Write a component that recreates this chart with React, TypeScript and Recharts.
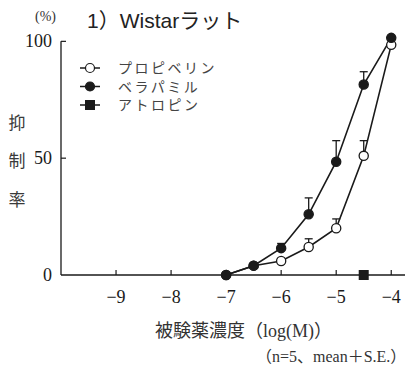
import {
  ComposedChart,
  Line,
  Scatter,
  XAxis,
  YAxis,
  ErrorBar,
  ReferenceLine,
} from "recharts";

// log molar concentration of the test drug
const logConc = [-7, -6.5, -6, -5.5, -5, -4.5, -4];

// inhibition rate (%), mean and S.E.
const propiverine = [0, 4, 6, 12, 20, 51, 98.5];
const propiverineSE = [0, 0, 1, 3.5, 4, 6.5, 0];
const verapamil = [0, 4, 11.5, 26, 48.5, 81.5, 101.5];
const verapamilSE = [0, 0, 2, 7, 9, 5.5, 0];

const atropineConc = [-4.5];
const atropine = [0];

const xTicks = [-9, -8, -7, -6, -5, -4];
const yTicks = [0, 50, 100];

const legendItems = ["プロピベリン", "ベラパミル", "アトロピン"];

const propRows = logConc.map((x, i) => ({
  x,
  y: propiverine[i],
  err: [0, propiverineSE[i]],
}));
const veraRows = logConc.map((x, i) => ({
  x,
  y: verapamil[i],
  err: [0, verapamilSE[i]],
}));
const atroRows = atropineConc.map((x, i) => ({ x, y: atropine[i] }));

const INK = "#1a1a1a";
const SERIF = "'Liberation Serif', 'Noto Sans CJK JP', serif";
const CJK = "'Noto Sans CJK JP', sans-serif";

function XTick({ x, y, payload }: any) {
  return (
    <g>
      <line x1={x} y1={y} x2={x} y2={y - 5} stroke={INK} strokeWidth={1.2} />
      <text
        x={x}
        y={y + 28}
        textAnchor="middle"
        fontFamily={SERIF}
        fontSize={18}
        fill={INK}
      >
        {"\u2212" + Math.abs(payload.value)}
      </text>
    </g>
  );
}

function YTick({ x, y, payload }: any) {
  return (
    <g>
      {payload.value > 0 && (
        <line x1={x} y1={y} x2={x + 5} y2={y} stroke={INK} strokeWidth={1.2} />
      )}
      <text
        x={x - 9}
        y={y + 6}
        textAnchor="end"
        fontFamily={SERIF}
        fontSize={18}
        fill={INK}
      >
        {payload.value}
      </text>
    </g>
  );
}

function SquareDot({ cx, cy }: any) {
  return <rect x={cx - 5} y={cy - 5} width={10} height={10} fill={INK} />;
}

function LegendMarker({ kind, cx, cy }: any) {
  if (kind === 2) {
    return <rect x={cx - 5} y={cy - 5} width={10} height={10} fill={INK} />;
  }
  return (
    <circle
      cx={cx}
      cy={cy}
      r={4.5}
      fill={kind === 0 ? "#fff" : INK}
      stroke={INK}
      strokeWidth={1.2}
    />
  );
}

export default function App() {
  return (
    <div
      style={{
        position: "absolute",
        left: 0,
        top: 0,
        width: 412,
        height: 369,
        background: "#fff",
      }}
    >
      <ComposedChart
        width={412}
        height={369}
        margin={{ top: 32, right: 7, bottom: 64, left: 8 }}
      >
        <XAxis
          type="number"
          dataKey="x"
          domain={[-10, -3.75]}
          ticks={xTicks}
          height={30}
          axisLine={{ stroke: INK, strokeWidth: 1.3 }}
          tickLine={false}
          tickSize={0}
          tickMargin={0}
          tick={<XTick />}
        />
        <YAxis
          type="number"
          dataKey="y"
          domain={[0, 104]}
          ticks={yTicks}
          width={53}
          axisLine={false}
          tickLine={false}
          tickSize={0}
          tickMargin={0}
          tick={<YTick />}
        />
        <ReferenceLine
          segment={[
            { x: -10, y: 0 },
            { x: -10, y: 100 },
          ]}
          stroke={INK}
          strokeWidth={1.3}
        />
        <Line
          data={propRows}
          dataKey="y"
          type="linear"
          stroke={INK}
          strokeWidth={1.6}
          dot={{ r: 4.6, fill: "#fff", stroke: INK, strokeWidth: 1.3 }}
          isAnimationActive={false}
        >
          <ErrorBar
            dataKey="err"
            direction="y"
            width={4}
            stroke={INK}
            strokeWidth={1.3}
          />
        </Line>
        <Line
          data={veraRows}
          dataKey="y"
          type="linear"
          stroke={INK}
          strokeWidth={1.6}
          dot={{ r: 4.6, fill: INK, stroke: INK, strokeWidth: 1.3 }}
          isAnimationActive={false}
        >
          <ErrorBar
            dataKey="err"
            direction="y"
            width={4}
            stroke={INK}
            strokeWidth={1.3}
          />
        </Line>
        <Scatter
          data={atroRows}
          dataKey="y"
          shape={<SquareDot />}
          isAnimationActive={false}
        />
      </ComposedChart>

      <svg
        width={412}
        height={369}
        style={{ position: "absolute", left: 0, top: 0, pointerEvents: "none" }}
      >
        <text x={35} y={21} fontFamily={SERIF} fontSize={14} fill="#333">
          (%)
        </text>
        <text
          x={87}
          y={28}
          fontFamily="'Liberation Sans', 'Noto Sans CJK JP', sans-serif"
          fontSize={21}
          fill="#222"
        >
          1）Wistarラット
        </text>

        {["抑", "制", "率"].map((ch, i) => (
          <text
            key={ch}
            x={17}
            y={[128.5, 166.5, 205.5][i]}
            textAnchor="middle"
            fontFamily={CJK}
            fontSize={17}
            fill="#3a3a3a"
          >
            {ch}
          </text>
        ))}

        {legendItems.map((name, i) => {
          const cy = 68 + i * 18.5;
          return (
            <g key={name}>
              <line x1={80} y1={cy} x2={100} y2={cy} stroke={INK} strokeWidth={1.5} />
              <LegendMarker kind={i} cx={90} cy={cy} />
              <text
                x={118}
                y={cy + 5}
                fontFamily={CJK}
                fontSize={14}
                letterSpacing={2.5}
                fill="#444"
              >
                {name}
              </text>
            </g>
          );
        })}

        <text x={155} y={336.5} fontFamily={SERIF} fontSize={18} fill="#333">
          被験薬濃度（log(M)）
        </text>
        <text x={256} y={362} fontFamily={SERIF} fontSize={16} fill="#333">
          （n=5、mean＋S.E.）
        </text>
      </svg>
    </div>
  );
}
